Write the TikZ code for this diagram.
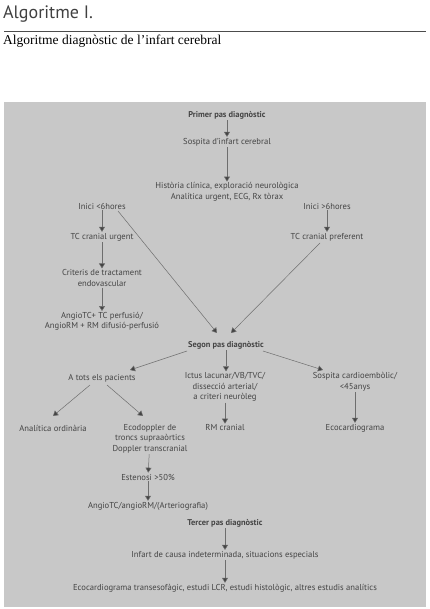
\documentclass[tikz,border=0pt]{standalone}
\usepackage{fontspec}
\setmainfont{Liberation Serif}
\newfontfamily\flowfont{PT Sans}
\newfontfamily\headfont{PT Sans}
\usetikzlibrary{arrows.meta}
\definecolor{panel}{HTML}{C8C8C8}
\definecolor{ink}{HTML}{444444}
\definecolor{wire}{HTML}{6E6E6E}
\begin{document}
\begin{tikzpicture}[x=1pt,y=-1pt,
  txt/.style={font=\flowfont\fontsize{8.6}{10.5}\selectfont, text=ink, align=center, inner sep=1pt},
  hdr/.style={txt, font=\flowfont\bfseries\fontsize{8.4}{10.5}\selectfont},
  link/.style={draw=wire, line width=0.5pt, -{Triangle[width=6pt,length=5pt,fill=ink]}}
]
\useasboundingbox (0,0) rectangle (430,609);
% heading
\node[anchor=base west, inner sep=0, font=\headfont\fontsize{18}{20}\selectfont, text=black!75] (title) at (3,19) {Algoritme I.};
\draw[black!70, line width=0.6pt] (4,31) -- (426,31);
\node[anchor=base west, inner sep=0, font=\fontsize{13.5}{15}\selectfont] (subtitle) at (3,45) {Algoritme diagnòstic de l’infart cerebral};
% background panel
\fill[panel] (4,102) rectangle (426,606.5);

% first step
\node[hdr] (p1) at (227,115) {Primer pas diagnòstic};
\node[txt] (susp) at (227,142) {Sospita d’infart cerebral};
\node[txt] (hist) at (227,192) {Història clínica, exploració neurològica\\Analítica urgent, ECG, Rx tòrax};
\node[txt] (lt6) at (102,206) {Inici <6hores};
\node[txt] (gt6) at (327,206) {Inici >6hores};
\node[txt] (tcu) at (102,237) {TC cranial urgent};
\node[txt] (crit) at (102,278) {Criteris de tractament\\endovascular};
\node[txt] (angio) at (102,321.5) {AngioTC+ TC perfusió/\\AngioRM + RM difusió-perfusió};
\node[txt] (tcp) at (327,237) {TC cranial preferent};

% second step
\node[hdr] (p2) at (226,345) {Segon pas diagnòstic};
\node[txt] (tots) at (102,378) {A tots els pacients};
\node[txt] (ictus) at (225,387) {Ictus lacunar/VB/TVC/\\dissecció arterial/\\a criteri neuròleg};
\node[txt] (cardio) at (355,382) {Sospita cardioembòlic/\\<45anys};
\node[txt] (anal) at (53,428) {Analítica ordinària};
\node[txt] (eco) at (150,438.5) {Ecodoppler de\\troncs supraaòrtics\\Doppler transcranial};
\node[txt] (rm) at (225,428) {RM cranial};
\node[txt] (ecg) at (355,428) {Ecocardiograma};
\node[txt] (est) at (148,477) {Estenosi >50\%};
\node[txt] (angio2) at (148,506) {AngioTC/angioRM/(Arteriografia)};

% third step
\node[hdr] (p3) at (225,523) {Tercer pas diagnòstic};
\node[txt] (indet) at (225,555) {Infart de causa indeterminada, situacions especials};
\node[txt] (final) at (225,588) {Ecocardiograma transesofàgic, estudi LCR, estudi histològic, altres estudis analítics};

% free ends of the slanted connectors
\coordinate (d1) at (118,211);
\coordinate (e1) at (217,333);
\coordinate (d2) at (320,243);
\coordinate (e2) at (231,333);
\coordinate (d3) at (187,351);
\coordinate (e3) at (130,370);
\coordinate (d4) at (263,351);
\coordinate (e4) at (323,370);
\coordinate (d5) at (90,385);
\coordinate (e5) at (53,416);
\coordinate (d6) at (107,385);
\coordinate (e6) at (143,416);

% connectors
\draw[link] (p1) -- (susp);
\draw[link] (susp) -- (hist);
\draw[link] (lt6) -- (tcu);
\draw[link] (tcu) -- (crit);
\draw[link] (crit) -- (angio);
\draw[link] (gt6) -- (tcp);
\draw[link] (d1) -- (e1);
\draw[link] (d2) -- (e2);
\draw[link] (d3) -- (e3);
\draw[link] (p2) -- (p2 |- ictus.north);
\draw[link] (d4) -- (e4);
\draw[link] (d5) -- (e5);
\draw[link] (d6) -- (e6);
\draw[link] (ictus) -- (rm);
\draw[link] (cardio) -- (ecg);
\draw[link] (eco) -- (est);
\draw[link] (est) -- (angio2);
\draw[link] (p3) -- (indet);
\draw[link] (indet) -- (final);
\end{tikzpicture}
\end{document}
